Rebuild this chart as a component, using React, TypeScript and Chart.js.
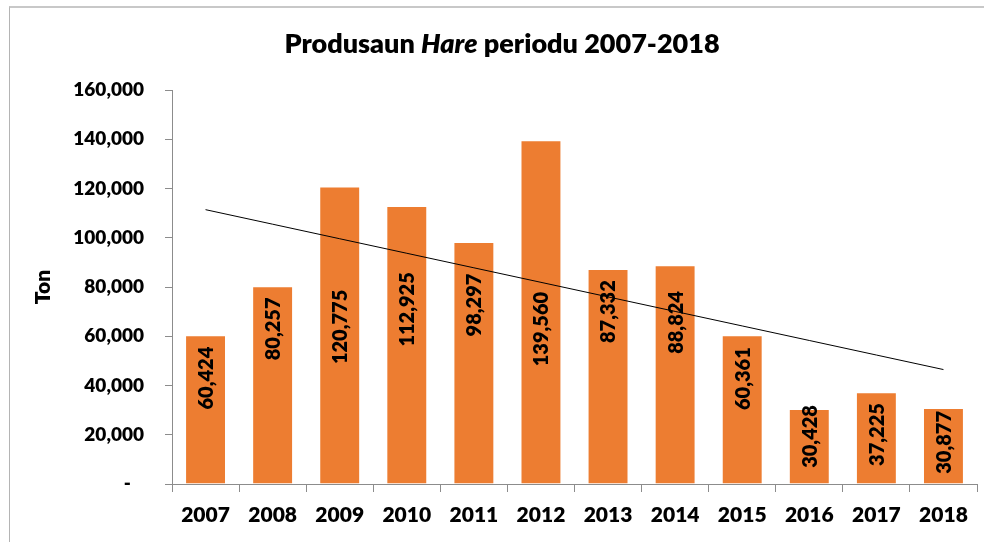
import React, { useEffect, useRef } from 'react';
import { Chart, registerables } from 'chart.js';

Chart.register(...registerables);

// ---- data ----
const years = ['2007', '2008', '2009', '2010', '2011', '2012', '2013', '2014', '2015', '2016', '2017', '2018'];
const production = [60424, 80257, 120775, 112925, 98297, 139560, 87332, 88824, 60361, 30428, 37225, 30877];
// value-axis position (tons) where each rotated data label is centred in the source
const labelAnchors = [43000, 63000, 63800, 70900, 72700, 62900, 70000, 65600, 42800, 19300, 20100, 16900];
const yTickValues = [0, 20000, 40000, 60000, 80000, 100000, 120000, 140000, 160000];
const titleParts = [
  { text: 'Produsaun ', italic: false },
  { text: 'Hare', italic: true },
  { text: ' periodu 2007-2018', italic: false },
];
const yAxisTitle = 'Ton';

const FONT = 'Lato, "Open Sans", sans-serif';
const WEIGHT = 800;
const BAR_COLOR = '#ED7D31';
const AXIS_GRAY = '#8c8c8c';

function linearTrend(values: number[]): number[] {
  const n = values.length;
  const xs = values.map((_, i) => i + 1);
  const mx = xs.reduce((a, b) => a + b, 0) / n;
  const my = values.reduce((a, b) => a + b, 0) / n;
  let sxy = 0;
  let sxx = 0;
  for (let i = 0; i < n; i++) {
    sxy += (xs[i] - mx) * (values[i] - my);
    sxx += (xs[i] - mx) * (xs[i] - mx);
  }
  const slope = sxy / sxx;
  return xs.map((x) => my + slope * (x - mx));
}

const titlePlugin = {
  id: 'mixedTitle',
  afterDraw(chart: any) {
    const ctx = chart.ctx as CanvasRenderingContext2D;
    ctx.save();
    ctx.fillStyle = '#000';
    ctx.textBaseline = 'alphabetic';
    ctx.textAlign = 'left';
    const size = 27;
    const fonts = titleParts.map((p) => `${p.italic ? 'italic ' : ''}${WEIGHT} ${size}px ${FONT}`);
    const widths = titleParts.map((p, i) => {
      ctx.font = fonts[i];
      return ctx.measureText(p.text).width;
    });
    const total = widths.reduce((a, b) => a + b, 0);
    let x = 502 - total / 2;
    titleParts.forEach((p, i) => {
      ctx.font = fonts[i];
      ctx.fillText(p.text, x, 53);
      x += widths[i];
    });
    ctx.restore();
  },
};

const barLabelPlugin = {
  id: 'barLabels',
  afterDatasetsDraw(chart: any) {
    const ctx = chart.ctx as CanvasRenderingContext2D;
    const meta = chart.getDatasetMeta(1);
    const yScale = chart.scales.y;
    ctx.save();
    ctx.fillStyle = '#000';
    ctx.font = `${WEIGHT} 20px ${FONT}`;
    ctx.textAlign = 'center';
    ctx.textBaseline = 'middle';
    meta.data.forEach((bar: any, i: number) => {
      const y = yScale.getPixelForValue(labelAnchors[i]);
      ctx.save();
      ctx.translate(bar.x, y);
      ctx.rotate(-Math.PI / 2);
      ctx.fillText(production[i].toLocaleString('en-US'), 0, 1);
      ctx.restore();
    });
    ctx.restore();
  },
};

export default function App() {
  const canvasRef = useRef<HTMLCanvasElement | null>(null);

  useEffect(() => {
    if (!canvasRef.current) return;
    const trend = linearTrend(production);
    const chart = new Chart(canvasRef.current, {
      type: 'bar',
      data: {
        labels: years,
        datasets: [
          {
            type: 'line',
            label: 'Trend',
            data: trend,
            borderColor: '#000',
            borderWidth: 1,
            pointRadius: 0,
            fill: false,
            tension: 0,
            order: 0,
          } as any,
          {
            type: 'bar',
            label: 'Produsaun',
            data: production,
            backgroundColor: BAR_COLOR,
            borderColor: 'rgba(255,255,255,0.45)',
            borderWidth: 1,
            barPercentage: 0.61,
            categoryPercentage: 1,
            order: 1,
          } as any,
        ],
      },
      options: {
        responsive: false,
        animation: false,
        devicePixelRatio: 1,
        layout: { padding: { left: 0, top: 90, right: 7, bottom: 0 } },
        plugins: {
          legend: { display: false },
          tooltip: { enabled: false },
          title: { display: false },
        },
        scales: {
          x: {
            grid: {
              display: true,
              drawOnChartArea: false,
              drawTicks: true,
              tickLength: 8,
              color: AXIS_GRAY,
              offset: true,
            },
            border: { display: true, color: AXIS_GRAY, width: 1 },
            ticks: {
              font: { family: FONT, weight: WEIGHT, size: 21 },
              color: '#000',
              padding: 11,
              maxRotation: 0,
              autoSkip: false,
            },
            afterFit: (s: any) => {
              s.height = 58;
            },
          } as any,
          y: {
            min: 0,
            max: 160000,
            afterBuildTicks: (s: any) => {
              s.ticks = yTickValues.map((v) => ({ value: v }));
            },
            ticks: {
              font: { family: FONT, weight: WEIGHT, size: 19 },
              color: '#000',
              padding: 21,
              callback: (v: any) => (Number(v) === 0 ? '-   ' : Number(v).toLocaleString('en-US')),
            },
            grid: {
              display: true,
              drawOnChartArea: false,
              drawTicks: true,
              tickLength: 7,
              color: AXIS_GRAY,
            },
            border: { display: true, color: AXIS_GRAY, width: 1 },
            title: {
              display: true,
              text: yAxisTitle,
              color: '#000',
              font: { family: FONT, weight: WEIGHT, size: 21 },
              padding: { top: 31, bottom: 0 },
            },
            afterFit: (s: any) => {
              s.width = 172;
            },
          } as any,
        },
      },
      plugins: [titlePlugin, barLabelPlugin],
    });
    return () => chart.destroy();
  }, []);

  return (
    <div
      style={{
        position: 'fixed',
        left: 0,
        top: 0,
        width: 984,
        height: 542,
        background: '#fff',
        overflow: 'hidden',
      }}
    >
      <div
        style={{
          position: 'absolute',
          left: 9,
          top: 6,
          right: -20,
          bottom: -20,
          borderTop: '2px solid #c8c8c8',
          borderLeft: '1px solid #b4b4b4',
        }}
      />
      <canvas
        ref={canvasRef}
        width={984}
        height={542}
        style={{ position: 'absolute', left: 0, top: 0, width: 984, height: 542 }}
      />
    </div>
  );
}
